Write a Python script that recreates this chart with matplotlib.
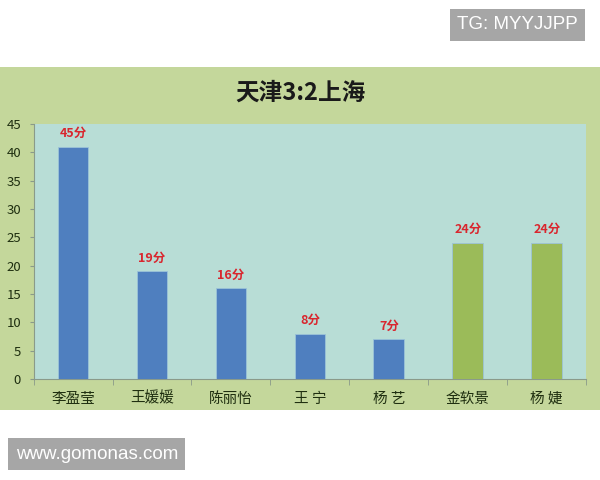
import matplotlib.pyplot as plt
from matplotlib.patches import Rectangle

plt.rcParams['font.family'] = ['Noto Sans CJK SC', 'DejaVu Sans']

# data
players = ["李盈莹", "王媛媛", "陈丽怡", "王 宁", "杨 艺", "金软景", "杨 婕"]
heights = [41, 19, 16, 8, 7, 24, 24]
labels = ["45分", "19分", "16分", "8分", "7分", "24分", "24分"]
teams = ["tj", "tj", "tj", "tj", "tj", "sh", "sh"]
yticks = [0, 5, 10, 15, 20, 25, 30, 35, 40, 45]

team_color = {"tj": "#4f7fbf", "sh": "#9bbb59"}

fig = plt.figure(figsize=(6, 4.8), dpi=100)
fig.patch.set_facecolor("white")

# green panel behind the chart
fig.patches.append(Rectangle((0, 0.146), 1, 0.714, transform=fig.transFigure,
                             facecolor="#c4d79b", edgecolor="none", zorder=-1))

ax = fig.add_axes([0.056, 0.2104, 0.921, 0.531])
ax.set_facecolor("#b8ddd6")

x = range(len(players))
ax.bar(x, heights, width=0.39, color=[team_color[t] for t in teams],
       edgecolor="#9cc3d8", linewidth=0.6, zorder=3)

for i, (h, lab) in enumerate(zip(heights, labels)):
    ax.annotate(lab, (i, h), xytext=(0, 5), textcoords="offset points",
                ha="center", va="bottom", color="#d9262e", fontsize=9,
                fontweight="bold", zorder=4)

ax.set_xlim(-0.5, len(players) - 0.5)
ax.set_ylim(0, 45)
ax.set_yticks(yticks)
ax.set_xticks(list(x))
ax.set_xticklabels(players)
ax.set_xticks([i - 0.5 for i in range(len(players) + 1)], minor=True)
ax.tick_params(axis="x", which="major", length=0, pad=9, labelsize=10.5,
               labelcolor="#1f2f10")
ax.tick_params(axis="x", which="minor", length=4, color="#8a9a8a",
               direction="out")
ax.tick_params(axis="y", length=3, color="#8a9a8a", labelsize=9.5,
               labelcolor="#1f2f10", pad=6)

for s in ["top", "right"]:
    ax.spines[s].set_visible(False)
ax.spines["left"].set_color("#8a9a8a")
ax.spines["bottom"].set_color("#8a9a8a")

fig.text(0.5, 0.808, "天津3:2上海", ha="center", va="center", fontsize=17,
         fontweight="bold", color="#1a1a1a")

# watermarks
fig.text(0.762, 0.948, "TG: MYYJJPP", ha="left", va="center", fontsize=13.5,
         color="white", family=["Liberation Sans"],
         bbox=dict(boxstyle="square,pad=0.4", facecolor="#a6a6a6",
                   edgecolor="none"))
fig.text(0.026, 0.054, "www.gomonas.com", ha="left", va="center",
         fontsize=13.5, color="white", family=["Liberation Sans"],
         bbox=dict(boxstyle="square,pad=0.4", facecolor="#a6a6a6",
                   edgecolor="none"))

fig.savefig("out.png", dpi=100, facecolor=fig.get_facecolor())
